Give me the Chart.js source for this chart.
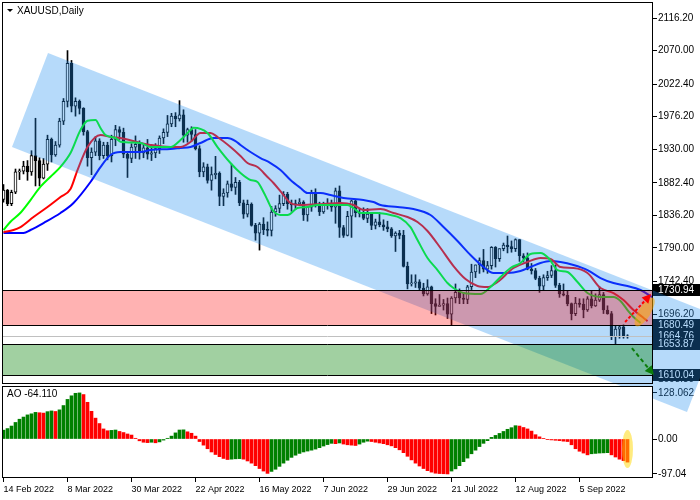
<!DOCTYPE html>
<html><head><meta charset="utf-8">
<script src="https://cdn.jsdelivr.net/npm/chart.js@4.4.1/dist/chart.umd.min.js"></script>
<style>html,body{margin:0;padding:0;background:#fff;}canvas{display:block;}</style>
</head><body>
<canvas id="c" width="700" height="500"></canvas>
<script>
// ---------- data ----------
const dateTicks = ["14 Feb 2022","8 Mar 2022","30 Mar 2022","22 Apr 2022","16 May 2022","7 Jun 2022","29 Jun 2022","21 Jul 2022","12 Aug 2022","5 Sep 2022"];
const dateTickIndex = [0,16,32,48,64,80,96,112,128,144];
const priceTicks = [2116.2,2070.0,2022.4,1976.2,1930.0,1882.4,1836.2,1790.0,1742.4,1696.2,1650.0,1603.8];
const aoTicks = [128.062, 0, -97.04];
const aoTickLabels = ["128.062","0.00","-97.04"];

const opens = [1859,1872,1853,1869,1898,1899,1906,1898,1921,1914,
1889,1909,1944,1922,1936,1970,1998,2052,1991,1998,
1988,1955,1918,1926,1942,1921,1936,1921,1944,1958,
1954,1923,1917,1933,1937,1925,1932,1923,1925,1931,
1946,1954,1966,1977,1973,1979,1950,1958,1951,1931,
1898,1905,1886,1894,1896,1863,1868,1881,1876,1883,
1854,1838,1852,1822,1811,1824,1816,1815,1841,1846,
1853,1866,1853,1851,1853,1855,1837,1848,1869,1851,
1841,1852,1853,1848,1871,1819,1808,1835,1857,1840,
1839,1832,1838,1822,1827,1823,1820,1817,1807,1811,
1808,1764,1739,1740,1742,1733,1725,1735,1711,1707,
1709,1711,1696,1719,1727,1719,1717,1735,1756,1766,
1772,1760,1765,1791,1775,1789,1794,1792,1789,1802,
1779,1776,1760,1758,1747,1736,1748,1751,1758,1737,
1725,1723,1711,1697,1712,1710,1702,1718,1708,1716,
1724,1702,1697,1664,1675,1678,1664];
const highs = [1880,1873,1872,1902,1902,1913,1914,1928,1974,1918,
1917,1950,1946,1941,1974,2002,2070,2056,2003,2000,
1989,1957,1932,1948,1945,1940,1940,1950,1964,1962,
1960,1927,1938,1949,1942,1936,1944,1933,1938,1949,
1959,1978,1981,1982,1999,1986,1960,1962,1958,1935,
1911,1909,1905,1920,1898,1874,1885,1909,1890,1886,
1858,1858,1854,1825,1826,1833,1827,1849,1850,1865,
1870,1869,1858,1858,1860,1857,1849,1872,1874,1855,
1855,1860,1858,1875,1878,1822,1842,1858,1858,1845,
1847,1846,1840,1831,1840,1830,1828,1819,1813,1815,
1815,1770,1752,1752,1745,1740,1745,1736,1718,1724,
1717,1719,1721,1739,1732,1727,1737,1767,1766,1776,
1788,1771,1792,1792,1789,1797,1807,1800,1803,1802,
1782,1783,1768,1761,1750,1752,1757,1765,1766,1740,
1739,1729,1712,1720,1718,1718,1721,1729,1725,1735,
1727,1708,1700,1679,1679,1681,1667];
const lows = [1855,1850,1850,1867,1887,1895,1886,1893,1878,1878,
1888,1900,1912,1920,1933,1965,1990,1983,1977,1980,
1950,1906,1894,1921,1915,1917,1915,1912,1935,1944,
1918,1890,1911,1917,1916,1918,1916,1914,1918,1924,
1938,1948,1962,1962,1970,1940,1940,1941,1929,1891,
1891,1882,1872,1888,1850,1850,1862,1871,1866,1850,
1832,1834,1821,1801,1787,1809,1807,1807,1835,1840,
1850,1845,1842,1845,1850,1829,1828,1842,1848,1836,
1839,1845,1842,1825,1805,1805,1807,1805,1834,1834,
1830,1826,1816,1817,1820,1815,1813,1805,1785,1803,
1763,1732,1736,1734,1730,1722,1723,1697,1695,1707,
1702,1690,1680.5,1712,1711,1711,1711,1731,1748,1754,
1756,1754,1760,1763,1771,1786,1783,1784,1785,1771,
1770,1759,1753,1745,1727,1730,1744,1748,1734,1720,
1722,1708,1688,1694,1706,1691,1700,1705,1707,1714,
1697,1696,1660,1653.9,1662,1662,1662];
const closes = [1872,1853,1869,1898,1899,1906,1898,1921,1914,1889,
1909,1944,1922,1936,1970,1998,2052,1991,1998,1988,
1955,1918,1926,1942,1921,1936,1921,1944,1958,1954,
1923,1917,1933,1937,1925,1932,1923,1925,1931,1946,
1954,1966,1977,1973,1979,1950,1958,1951,1931,1898,
1905,1886,1894,1896,1863,1868,1881,1876,1883,1854,
1838,1852,1822,1811,1824,1816,1815,1841,1846,1853,
1866,1853,1851,1853,1855,1837,1848,1869,1851,1841,
1852,1853,1848,1871,1819,1808,1835,1857,1840,1839,
1832,1838,1822,1827,1823,1820,1817,1807,1811,1808,
1764,1739,1740,1742,1733,1725,1735,1711,1707,1709,
1711,1696,1719,1727,1719,1717,1735,1756,1766,1772,
1760,1765,1791,1775,1789,1794,1792,1789,1802,1779,
1776,1760,1758,1747,1736,1748,1751,1758,1737,1725,
1723,1711,1697,1712,1710,1702,1718,1708,1716,1724,
1702,1697,1664,1675,1678,1664,1665];

const aoValues = [24.6,29,36,46,55,61,67,70,74,73,
72,76,78,76.5,81,93,110,120,127,128.06,
123.5,102,77,58,43,28,23,24,25,21,
18,14,11,2,-5,-9,-10,-9,-10.5,-8,
-3,2,8,17,25,25.5,20,16,8,-7,
-17,-27,-36,-43,-49,-54,-57,-56,-55,-54.5,
-56,-61,-67,-74,-82,-89,-95.5,-90,-84,-76,
-67,-59,-51,-45,-40,-36,-33.5,-31,-28,-24,
-19.5,-15.5,-12,-13,-11,-14,-16,-17,-18,-14,
-9,-6,-7,-9,-11,-13,-16,-19,-24,-30,
-38,-48,-58,-67,-75,-82,-88,-92,-95,-96,
-96.5,-97.04,-89,-83,-74,-63,-53,-41,-31,-21,
-12,-4.6,4.6,10,15.5,21,27,31.5,37,36,
32,28,22,12,6,1,-1,-2.5,-3.5,-4.5,
-6,-7,-16,-27,-34,-39,-44,-41,-40,-39,
-38.5,-38,-44,-50,-56,-60,-64.11];

// Alligator lines (bar index, price)
const lipsBar = [0,1.75,4.25,6.75,9.25,11.75,14.25,16.75,19.25,21,23,24.25,25.5,28,29.25,34.25,36.75,41.75,44.25,46.75,47.5,51,53.5,56.75,59.25,61.75,63.5,65,66,67.25,69.25,71,73.5,76,78.5,81.75,86,87.5,89.25,93.5,96.75,99.25,101.75,103.5,106,108.5,111,112.5,115,119.25,121.75,124.25,126.75,129.25,131.75,134.25,136.25,138.5,141,143.5,146,149.25,152.5,154.25,156,157.5,159.25];
const lipsPrice = [1815.5,1827.3,1840.0,1858.0,1876.9,1891.1,1905.1,1924.7,1957.3,1970.5,1971.5,1960.2,1950.2,1946.0,1940.7,1938.9,1933.2,1933.2,1943.1,1957.3,1960.6,1953.1,1933.2,1910.5,1896.3,1886.4,1883.6,1869.4,1858.0,1843.9,1836.8,1836.8,1846.7,1848.1,1850.9,1850.9,1850.9,1846.7,1839.6,1839.6,1836.8,1832.5,1819.7,1801.3,1775.8,1758.7,1740.3,1733.2,1726.1,1724.7,1734.6,1748.8,1761.6,1768.7,1781.4,1782.9,1775.8,1758.7,1755.9,1741.7,1726.1,1720.5,1720.5,1714.8,1702.0,1692.1,1683.6];
const teethBar = [0,2.5,4.25,7.5,11,14.25,16.75,18.5,21,24.25,26.75,29.25,34.25,36.75,41.75,44.25,46.75,49.25,51.75,53.5,56.75,59.25,61,63.5,66,67.5,70,71.75,74.25,80,84.25,87.5,90,94.25,97.5,101,103.5,106,109.25,112.5,115.5,118.5,121,123.5,127.5,131,134.25,136.75,139.25,142.5,146,149.25,152.5,155,157.5,159.75,161];
const teethPrice = [1812.7,1815.5,1819.7,1833.9,1848.1,1862.3,1873.6,1900.6,1933.2,1950.2,1947.4,1946.0,1938.9,1936.1,1933.2,1933.2,1940.3,1953.1,1953.1,1947.4,1933.2,1920.5,1910.5,1904.8,1890.7,1882.2,1865.1,1853.8,1850.9,1852.4,1853.8,1850.9,1843.9,1845.3,1839.6,1833.9,1826.8,1814.1,1790.0,1764.4,1746.0,1736.1,1734.6,1741.7,1761.6,1770.1,1775.8,1774.4,1763.0,1761.6,1754.5,1733.2,1726.1,1716.2,1702.0,1692.1,1686];
const jawBar = [0,5,6.75,10,14.25,17.5,21.75,24.25,26.75,29.25,34.25,36.75,41.75,44.25,46.75,49.25,52.5,56,58,59.25,61.75,64.25,66.75,69.25,71.75,74.25,76,79.25,81.75,85,90,92.5,94.25,98.5,102.5,106.75,110,113.5,116.75,120,122.5,126,129.25,131.75,134.25,136.75,139.25,142.5,146,149.25,152.5,156,159.25,161,164];
const jawPrice = [1811.2,1811.2,1815.5,1825.4,1839.6,1853.8,1883.6,1904.8,1921.9,1926.1,1926.1,1928.9,1930.4,1931.8,1933.2,1938.9,1946.0,1946.0,1941.7,1936.1,1926.1,1917.6,1910.5,1900.6,1886.4,1875.1,1868.0,1868.0,1865.1,1860.9,1858.0,1855.2,1850.9,1848.1,1845.3,1836.8,1819.7,1799.9,1780.0,1763.0,1754.5,1754.5,1757.3,1763.0,1768.7,1771.5,1770.1,1765.9,1758.7,1747.4,1740.3,1736.1,1730.4,1724.7,1713.4];

// drawn objects (bar index / price)
const sellZone = [1730.94, 1680.49];
const buyZone = [1653.87, 1610.04];
const bidPrice = 1664.76;
const priceBoxes = [1730.94, 1680.49, 1664.76, 1653.87, 1610.04];
const channelCorners = [[11.125,2066.6],[179.875,1690.7],[170.875,1557.3],[2.125,1933.2]];
const upArrow = [[155.4,1685.0],[161.9,1724.7]];
const downArrow = [[157.1,1648.1],[162.6,1609.8]];
const focusPrice = [160.3, 1699.2];
const focusAO = [156, -27.8];
const aoCurrent = "AO -64.110";
const symbolTitle = "XAUUSD,Daily";

// ---------- chart ----------
const FONT = '"Liberation Sans", Arial, sans-serif';
const idx = closes.map((_, i) => i);
const wickData = idx.map(i => ({x: i, y: [lows[i], highs[i]]}));
const bodyData = idx.map(i => ({x: i, y: [opens[i], closes[i]]}));
const bodyFill = idx.map(i => closes[i] >= opens[i] ? '#ffffff' : '#000000');
const aoData = aoValues.map((v, i) => ({x: i, y: v}));
const aoColors = aoValues.map((v, i) => (i === 0 || v > aoValues[i - 1]) ? '#008000' : '#ff0000');
const pts = (xs, ys) => xs.map((x, k) => ({x, y: ys[k]}));

function arrow(c, x1, y1, x2, y2, color, dash) {
  c.save();
  c.strokeStyle = color; c.fillStyle = color; c.lineWidth = 2;
  const ang = Math.atan2(y2 - y1, x2 - x1), hl = 9, hw = 4.5;
  const bx = x2 - hl * Math.cos(ang), by = y2 - hl * Math.sin(ang);
  c.setLineDash(dash);
  c.beginPath(); c.moveTo(x1, y1); c.lineTo(bx, by); c.stroke();
  c.setLineDash([]);
  c.beginPath(); c.moveTo(x2, y2);
  c.lineTo(bx + hw * Math.sin(ang), by - hw * Math.cos(ang));
  c.lineTo(bx - hw * Math.sin(ang), by + hw * Math.cos(ang));
  c.closePath(); c.fill();
  c.restore();
}

const mt4 = {
  id: 'mt4',
  afterDraw(chart) {
    const c = chart.ctx, xs = chart.scales.x, ys = chart.scales.y, as = chart.scales.ao, ca = chart.chartArea;
    const L = ca.left, R = ca.right, T = ca.top, W = chart.width, H = chart.height;
    const X = v => xs.getPixelForValue(v), Y = v => ys.getPixelForValue(v), A = v => as.getPixelForValue(v);
    const mainBottom = Math.round(ys.bottom), aoBottom = Math.round(as.bottom);
    c.save();
    // price boxes on the scale
    c.font = '10px ' + FONT; c.textBaseline = 'middle'; c.textAlign = 'left';
    priceBoxes.forEach(v => {
      const y = Math.round(Y(v));
      c.fillStyle = '#000'; c.fillRect(R, y - 6, W - R, 12);
      c.fillStyle = '#fff'; c.fillText(v.toFixed(2), R + 5, y + 0.5);
    });
    // regression channel (semi transparent)
    c.save();
    c.beginPath(); c.rect(L, T, R - L, mainBottom + 3 - T); c.rect(R, 0, W - R, H); c.clip();
    c.beginPath();
    channelCorners.forEach(([i, p], k) => { const x = X(i), y = Y(p); k ? c.lineTo(x, y) : c.moveTo(x, y); });
    c.closePath(); c.fillStyle = 'rgba(33,142,239,0.33)'; c.fill();
    c.restore();
    // zones
    const zone = (a, b, col) => {
      const y1 = Math.round(Y(a)), y2 = Math.round(Y(b));
      c.fillStyle = col; c.fillRect(L, y1, R - L, y2 - y1);
      c.strokeStyle = '#000'; c.lineWidth = 1; c.beginPath();
      c.moveTo(L, y1 + 0.5); c.lineTo(R, y1 + 0.5); c.moveTo(L, y2 + 0.5); c.lineTo(R, y2 + 0.5); c.stroke();
    };
    zone(sellZone[0], sellZone[1], 'rgba(255,0,0,0.3)');
    zone(buyZone[0], buyZone[1], 'rgba(0,128,0,0.37)');
    // bid line
    const yb = Math.round(Y(bidPrice)) + 0.5;
    c.strokeStyle = '#c0c0c0'; c.beginPath(); c.moveTo(L, yb); c.lineTo(R, yb); c.stroke();
    // frames
    c.strokeStyle = '#000'; c.lineWidth = 1;
    c.strokeRect(L + 0.5, T + 0.5, R - L - 1, mainBottom - T);
    c.strokeRect(L + 0.5, mainBottom + 3.5, R - L - 1, aoBottom - mainBottom - 4);
    // focus ellipses
    c.fillStyle = 'rgba(255,170,0,0.55)';
    c.beginPath(); c.ellipse(X(focusPrice[0]), Y(focusPrice[1]), 16.5, 6, -58 * Math.PI / 180, 0, Math.PI * 2); c.fill();
    c.fillStyle = 'rgba(255,215,0,0.5)';
    c.beginPath(); c.ellipse(X(focusAO[0]), A(focusAO[1]), 5.5, 19, 0, 0, Math.PI * 2); c.fill();
    // arrows
    arrow(c, X(upArrow[0][0]), Y(upArrow[0][1]), X(upArrow[1][0]), Y(upArrow[1][1]), '#ff0000', [3, 2]);
    arrow(c, X(downArrow[0][0]), Y(downArrow[0][1]), X(downArrow[1][0]), Y(downArrow[1][1]), '#0b7d0b', [4, 3]);
    // titles
    c.fillStyle = '#000';
    c.beginPath(); c.moveTo(7, 9); c.lineTo(13, 9); c.lineTo(10, 12); c.closePath(); c.fill();
    c.font = '10px ' + FONT; c.textBaseline = 'middle'; c.textAlign = 'left';
    c.fillText(symbolTitle, 17, 11);
    c.fillText(aoCurrent, 7, mainBottom + 11);
    c.restore();
  }
};

const yAxisCommon = {
  position: 'right', stack: 'v', bounds: 'data',
  grid: {display: true, drawOnChartArea: false, drawTicks: true, tickLength: 4, color: '#000'},
  border: {display: false},
};

new Chart(document.getElementById('c'), {
  type: 'bar',
  data: {
    datasets: [
      {type: 'bar', data: wickData, backgroundColor: '#000', borderWidth: 0, barThickness: 1, grouped: false, yAxisID: 'y', order: 10},
      {type: 'bar', data: bodyData, backgroundColor: bodyFill, borderColor: '#000', borderWidth: 1, borderSkipped: false, barThickness: 3, minBarLength: 1, grouped: false, yAxisID: 'y', order: 9},
      {type: 'line', data: pts(jawBar, jawPrice), borderColor: '#0000ff', borderWidth: 2, pointRadius: 0, cubicInterpolationMode: 'monotone', yAxisID: 'y', order: 5},
      {type: 'line', data: pts(teethBar, teethPrice), borderColor: '#ff0000', borderWidth: 2, pointRadius: 0, cubicInterpolationMode: 'monotone', yAxisID: 'y', order: 4},
      {type: 'line', data: pts(lipsBar, lipsPrice), borderColor: '#00ff00', borderWidth: 2, pointRadius: 0, cubicInterpolationMode: 'monotone', yAxisID: 'y', order: 3},
      {type: 'bar', data: aoData, backgroundColor: aoColors, borderWidth: 0, barThickness: 3, grouped: false, yAxisID: 'ao', order: 1}
    ]
  },
  options: {
    responsive: false, animation: false, devicePixelRatio: 1,
    layout: {padding: {left: 2, top: 2, right: 0, bottom: 0}},
    plugins: {legend: {display: false}, tooltip: {enabled: false}},
    scales: {
      x: {
        type: 'linear', position: 'bottom', offset: false, min: -0.375, max: 162.375, bounds: 'data',
        afterBuildTicks: s => { s.ticks = dateTickIndex.map(v => ({value: v})); },
        afterFit: s => { s.height = 22; s.paddingLeft = 0; s.paddingRight = 0; },
        ticks: {autoSkip: false, maxRotation: 0, minRotation: 0, align: 'start', padding: 2, color: '#000',
          font: {family: FONT, size: 9},
          callback: v => { const k = dateTickIndex.indexOf(v); return k >= 0 ? dateTicks[k] : ''; }},
        grid: {display: true, offset: false, drawOnChartArea: false, drawTicks: true, tickLength: 4, color: '#000'},
        border: {display: false}
      },
      y: Object.assign({}, yAxisCommon, {
        weight: 1, stackWeight: 381, min: 1598.5, max: 2138.9,
        afterBuildTicks: s => { s.ticks = priceTicks.map(v => ({value: v})); },
        afterFit: s => { s.width = 47; s.paddingTop = 0; s.paddingBottom = 0; },
        ticks: {padding: 1, color: '#000', font: {family: FONT, size: 10}, callback: v => Number(v).toFixed(2)}
      }),
      ao: Object.assign({}, yAxisCommon, {
        weight: 2, stackWeight: 95, min: -108.3, max: 155.6,
        afterBuildTicks: s => { s.ticks = aoTicks.map(v => ({value: v})); },
        afterFit: s => { s.width = 47; s.paddingTop = 0; s.paddingBottom = 0; },
        ticks: {padding: 1, color: '#000', font: {family: FONT, size: 10},
          callback: v => { const k = aoTicks.indexOf(v); return k >= 0 ? aoTickLabels[k] : ''; }}
      })
    }
  },
  plugins: [mt4]
});
</script>
</body></html>
